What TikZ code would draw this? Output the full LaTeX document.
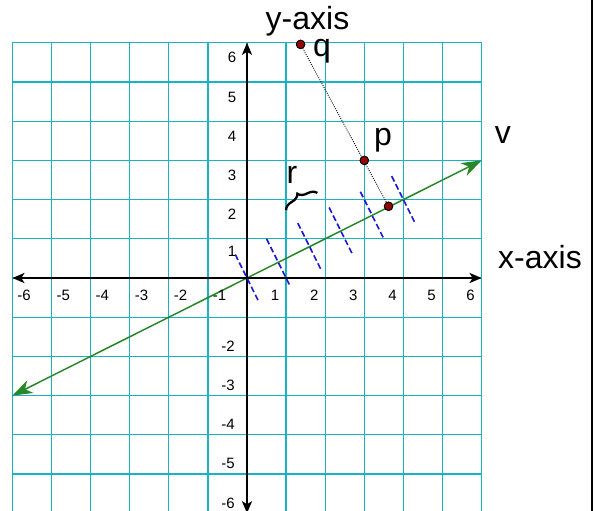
\documentclass[tikz,border=0pt]{standalone}
\usepackage{fontspec}
\setmainfont{Liberation Sans}
\usetikzlibrary{arrows.meta,decorations.pathreplacing,calc}
\definecolor{gridc}{RGB}{25,178,196}
\definecolor{vgreen}{RGB}{40,135,40}
\definecolor{tickblue}{RGB}{25,25,210}
\definecolor{dotred}{RGB}{150,0,0}
\begin{document}
\begin{tikzpicture}[x=39.1pt,y=39.2pt,
  big/.style={font=\fontsize{32}{32}\selectfont, anchor=base, inner sep=0pt},
  num/.style={font=\fontsize{15}{15}\selectfont, inner sep=0pt},
  dot/.style={circle, fill=dotred, draw=black, line width=0.8pt, minimum size=8.5pt, inner sep=0pt},
  tickl/.style={tickblue, line width=1.6pt, dash pattern=on 6pt off 3pt},
  axisl/.style={black, line width=2.6pt, {Stealth[length=12pt,width=10pt,inset=3pt]}-{Stealth[length=12pt,width=10pt,inset=3pt]}},
  vecl/.style={vgreen, line width=1.5pt, {Stealth[length=20pt,width=14pt,inset=6pt]}-{Stealth[length=20pt,width=14pt,inset=6pt]}},
  dotl/.style={black, line width=0.9pt, dash pattern=on 0.9pt off 1.3pt},
  bracel/.style={decorate, decoration={brace, amplitude=9pt}, line width=2.3pt},
  gridl/.style={gridc, line width=1.3pt}
]
\useasboundingbox (-6.317,-5.918) rectangle (8.900,7.092);
\clip (-6.317,-5.918) rectangle (8.900,7.092);
% grid
\foreach \i in {-6,...,6}{
  \draw[gridl] (\i,-6.5) -- (\i,6);
  \draw[gridl] (-6,\i) -- (6,\i);
}
% named points
\coordinate (O) at (0,0);
\coordinate (xl) at (-6,0);
\coordinate (xr) at (6,0);
\coordinate (yb) at (0,-6);
\coordinate (yt) at (0,6);
\coordinate (vs) at (-6,-3);
\coordinate (ve) at (6,3);
% vector v
\draw[vecl] (vs) -- (ve);
% axes
\draw[axisl] (xl) -- (xr);
\draw[axisl] (yb) -- (yt);
% perpendicular dashed ticks
\foreach \k in {0,...,5}{
  \coordinate (t\k) at ({0.8*\k},{0.4*\k});
  \draw[tickl] ($(t\k)+(-0.3,0.6)$) -- ($(t\k)+(0.31,-0.62)$);
}
% projection line and points
\node[dot] (q) at (1.37,5.96) {};
\node[dot] (p) at (3,3) {};
\node[dot] (pr) at (3.62,1.83) {};
\draw[dotl] (q) -- (pr);
\node[dot] at (q) {};
\node[dot] at (p) {};
\node[dot] at (pr) {};
% brace
\coordinate (b1) at (1.0,1.73);
\coordinate (b2) at (1.8,2.17);
\draw[bracel] (b1) -- (b2);
% big labels
\node[big] (ylab) at (1.547,6.327) {y-axis};
\node[big] (xlab) at (7.494,0.255) {x-axis};
\node[big] (vlab) at (6.547,3.436) {v};
\node[big] (plab) at (3.478,3.393) {p};
\node[big] (qlab) at (1.918,5.638) {q};
\node[big] (rlab) at (1.151,2.423) {r};
% tick numbers
\foreach \n in {1,...,6}{
  \node[num] (xp\n) at (\n-0.28,-0.434) {\n};
  \node[num] (xn\n) at (-\n+0.3,-0.434) {-\n};
}
\foreach \n in {2,...,6}{
  \node[num] (yp\n) at (-0.384,\n-0.383) {\n};
  \node[num] (yn\n) at (-0.486,-\n+0.26) {-\n};
}
\node[num] (yp1) at (-0.384,0.69) {1};
% right border
\draw[black, line width=2.5pt] (8.824,7.3) -- (8.824,-6.2);
\end{tikzpicture}
\end{document}
